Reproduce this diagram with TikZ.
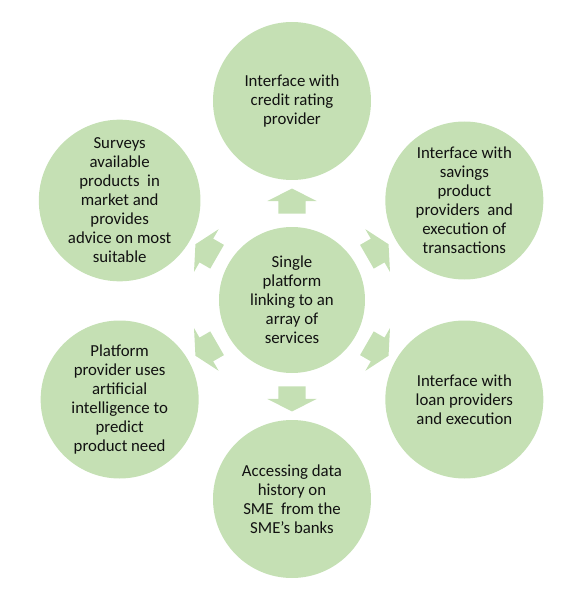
\documentclass[tikz,border=0pt]{standalone}
\usepackage{fontspec}
\setmainfont{Carlito}
\usepackage{tikz}
\usetikzlibrary{calc,positioning,shapes.arrows}
\definecolor{leafx}{HTML}{C5E0B4}
\definecolor{inkx}{HTML}{111111}
\tikzset{
  bubble/.style={circle,fill=leafx,minimum size=158pt,inner sep=0pt,align=center,text=inkx,font=\fontsize{16.8}{19}\selectfont},
  hubble/.style={bubble,minimum size=146pt},
  blk/.style={single arrow,fill=leafx,draw=none,minimum height=25pt,inner xsep=0pt,inner ysep=13.5pt,single arrow head extend=11pt,single arrow tip angle=126}
}
\begin{document}
\begin{tikzpicture}[x=1pt,y=1pt]
\useasboundingbox (-292,-300) rectangle (275,300);
\node[hubble] (hub) at (0,0) {Single\\platform\\linking to an\\array of\\services};
\node[bubble] (top) at (90:199) {Interface with\\credit rating\\provider};
\node[bubble] (tr) at (30:199) {Interface with\\savings\\product\\providers\ \ and\\execution of\\transactions};
\node[bubble] (br) at (-30:199) {Interface with\\loan providers\\and execution};
\node[bubble] (bot) at (-90:199) {Accessing data\\history on\\SME\ \ from the\\SME's banks};
\node[bubble] (bl) at (-150:199) {Platform\\provider uses\\artificial\\intelligence to\\predict\\product need};
\node[bubble] (tl) at (150:199) {Surveys\\available\\products\ \ in\\market and\\provides\\advice on most\\suitable};
\foreach \n/\a in {top/90,tr/30,br/-30,bot/-90,bl/-150,tl/150}
  \node[blk,rotate=\a] (ar-\n) at ($(hub)!95.5pt!(\n)$) {};
\end{tikzpicture}
\end{document}
